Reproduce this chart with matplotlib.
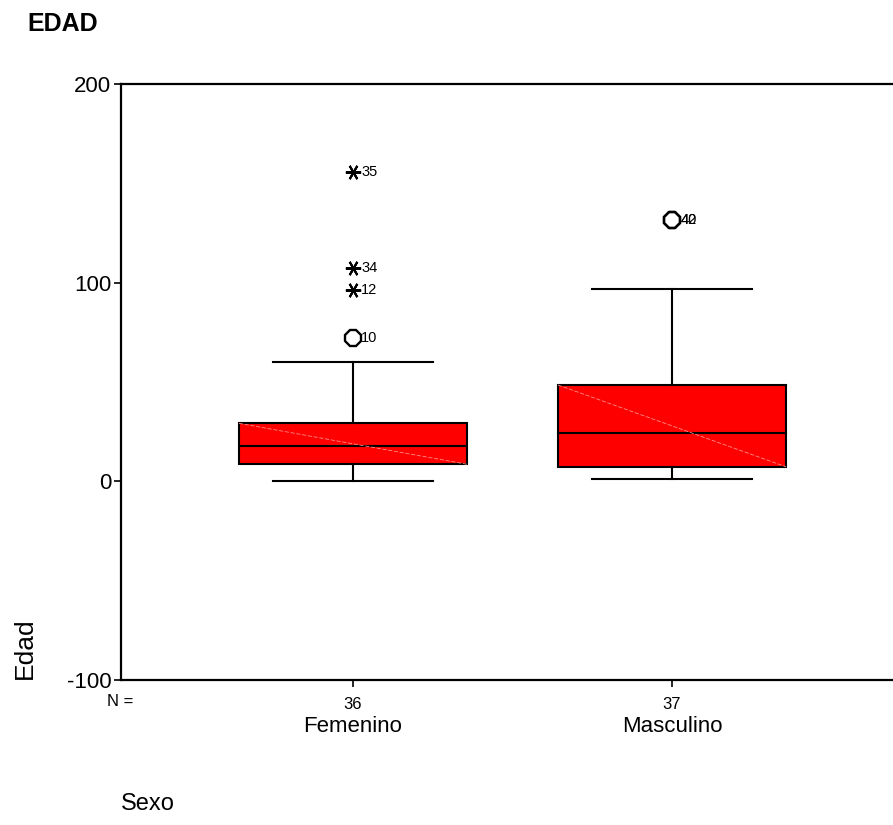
import matplotlib
matplotlib.use("Agg")
import matplotlib.pyplot as plt
import matplotlib.transforms as mtransforms

plt.rcParams['font.family'] = ['Liberation Sans', 'DejaVu Sans']

# ---- data ----
categories = ['Femenino', 'Masculino']
n_counts = [36, 37]
q1 = [8.6, 7.3]
medians = [17.9, 24.3]
q3 = [29.2, 48.5]
whisk_lo = [0.0, 1.2]
whisk_hi = [60.0, 97.0]
# outliers (circle) and extremes (asterisk): (value, case label)
outliers_fem = [(72.3, '10')]
extremes_fem = [(96.3, '12'), (107.2, '34'), (155.9, '35')]
outliers_masc = [(131.5, '40'), (131.5, '42')]
extremes_masc = []
yticks = [-100, 0, 100, 200]

positions = [1, 2]
outl = [outliers_fem, outliers_masc]
extr = [extremes_fem, extremes_masc]

fig = plt.figure(figsize=(8.93, 8.25), dpi=100)
W, H = 893, 825
left, right, top, bottom = 121, 904, 84, 680
ax = fig.add_axes([left / W, 1 - bottom / H, (right - left) / W, (bottom - top) / H])

stats = []
for i in range(2):
    stats.append(dict(med=medians[i], q1=q1[i], q3=q3[i], whislo=whisk_lo[i],
                      whishi=whisk_hi[i], fliers=[], label=categories[i]))

lw = 1.5
bw = 0.715
ax.bxp(stats, positions=positions, widths=bw, capwidths=0.5, patch_artist=True,
       showfliers=False,
       boxprops=dict(facecolor='#ff0000', edgecolor='black', linewidth=lw),
       medianprops=dict(color='black', linewidth=lw),
       whiskerprops=dict(color='black', linewidth=lw),
       capprops=dict(color='black', linewidth=lw))

# faint diagonal artifact inside boxes
for i, p in enumerate(positions):
    ax.plot([p - bw / 2, p + bw / 2], [q3[i], q1[i]], color='#ff8c8c', lw=0.6,
            linestyle=(0, (5, 2)), zorder=3)

# outliers and extremes
for i, p in enumerate(positions):
    for v, lab in outl[i]:
        ax.plot([p], [v], marker='8', markersize=12.5, markerfacecolor='none',
                markeredgecolor='black', markeredgewidth=1.7, zorder=5)
        ax.annotate(lab, (p, v), xytext=(6, 0), textcoords='offset points',
                    va='center', ha='left', fontsize=10.5)
    for v, lab in extr[i]:
        ax.plot([p], [v], marker=(6, 2, 90), markersize=11, color='black',
                markeredgewidth=1.5, zorder=5)
        ax.annotate(lab, (p, v), xytext=(6, 0), textcoords='offset points',
                    va='center', ha='left', fontsize=10.5)

ax.set_xlim(1 - 0.727, 2 + 0.727)
ax.set_ylim(-100, 200)
ax.set_yticks(yticks)
ax.set_yticklabels([str(t) for t in yticks], fontsize=16)
ax.set_xticks(positions)
ax.set_xticklabels([str(n) for n in n_counts], fontsize=12)
ax.tick_params(axis='y', length=5, width=1.2, pad=2)
ax.tick_params(axis='x', length=5, width=1.2, pad=7)

for s in ['left', 'bottom', 'top']:
    ax.spines[s].set_linewidth(1.6)
ax.spines['right'].set_visible(False)

# category labels
trans = mtransforms.blended_transform_factory(ax.transData, fig.transFigure)
for p, c in zip(positions, categories):
    ax.text(p, 1 - 727 / H, c, transform=trans, ha='center', va='center', fontsize=16)

fig.text(120 / W, 1 - 702 / H, 'N =', ha='center', va='center', fontsize=12)
fig.text(121 / W, 1 - 804 / H, 'Sexo', ha='left', va='center', fontsize=17)
fig.text(27 / W, 1 - 24 / H, 'EDAD', ha='left', va='center', fontsize=18, fontweight='bold')
fig.text(25 / W, 1 - 648 / H, 'Edad', ha='center', va='center', fontsize=19, rotation=90)

fig.savefig('out.png', dpi=100, facecolor='white')
